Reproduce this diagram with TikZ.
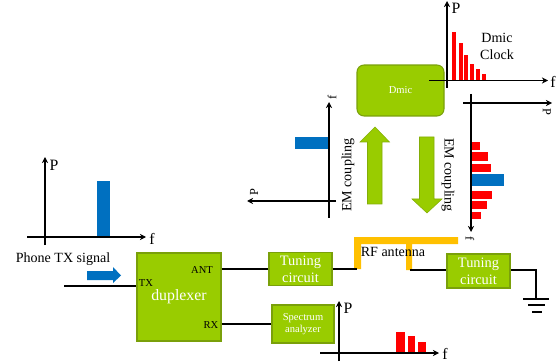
\documentclass[tikz,border=0pt]{standalone}
\usepackage{fontspec}
\setmainfont{Liberation Serif}
\usetikzlibrary{arrows.meta}
\definecolor{boxgreen}{RGB}{153,204,0}
\definecolor{boxedge}{RGB}{122,160,10}
\definecolor{txblue}{RGB}{0,112,192}
\definecolor{antorange}{RGB}{255,192,0}
\tikzset{
  axisline/.style={-{Stealth[length=3.5pt,width=3.5pt]}, line width=0.6pt},
  wire/.style={line width=1.2pt},
  greenbox/.style={draw=boxedge, fill=boxgreen, line width=0.6pt, text=white, align=center, inner sep=0pt},
  bigarrow/.style={draw=boxedge!70!boxgreen, fill=boxgreen, line width=0.3pt},
  label/.style={inner sep=0pt, align=center},
}
\begin{document}
\begin{tikzpicture}[x=0.02cm,y=-0.02cm]
\useasboundingbox (0,0) rectangle (560,364);

% the boxes
\node[greenbox, rounded corners=4pt, minimum width=1.74cm, minimum height=1.02cm, font=\fontsize{6}{7}\selectfont] (dmic) at (400.5,90.5) {Dmic};
\node[greenbox, minimum width=1.68cm, minimum height=1.76cm, font=\fontsize{9}{11}\selectfont] (duplexer) at (179,297) {\raisebox{-1pt}{duplexer}};
\node[greenbox, minimum width=1.26cm, minimum height=0.66cm, font=\fontsize{8.2}{9.5}\selectfont] (tuning1) at (300.5,269) {Tuning\\circuit};
\node[greenbox, minimum width=1.26cm, minimum height=0.68cm, font=\fontsize{8.2}{9.5}\selectfont] (tuning2) at (478.5,271) {Tuning\\circuit};
\node[greenbox, minimum width=1.24cm, minimum height=0.76cm, font=\fontsize{6}{7.2}\selectfont] (spectrum) at (303,324) {Spectrum\\analyzer};

% the antenna
\fill[antorange] (354,269) -- (354,237) -- (458,237) -- (458,244) -- (412,244) -- (412,270) -- (406,270) -- (406,244) -- (361,244) -- (361,269) -- cycle;
\coordinate (antleft) at (357,269);
\coordinate (antright) at (410,270);
\coordinate (txin) at (64,286);
\coordinate (gndcorner) at (536,270);
\coordinate (gndtop) at (536,299);

% the wires
\draw[wire] (txin) -- (duplexer.west |- txin);
\draw[wire] (duplexer.east |- tuning1.west) -- (tuning1.west);
\draw[wire] (duplexer.east |- spectrum.west) -- (spectrum.west);
\draw[wire] (tuning1.east) -- (antleft);
\draw[wire] (antright) -- (antright -| tuning2.west);
\draw[wire] (tuning2.east |- gndcorner) -- (gndcorner) -- (gndtop);

% ground
\foreach \xa/\xb/\ya in {523/549/299,528/545/305,532/542/312}
  \draw[wire] (\xa,\ya) -- (\xb,\ya);

% the plots, first the bars
\foreach \xa/\ytop in {452/32,459/43,464/55,470/64,476/69,482/74}
  \fill[red] (\xa,\ytop) rectangle ++(3.5,81-\ytop);
\foreach \ya/\yb/\xb in {142/150/480,152/161/488,164/172/491,191/199/492,201/209/487,212/219/481}
  \fill[red] (471,\ya) rectangle (\xb,\yb);
\foreach \xa/\xb/\ytop in {396/405/332,408/415/336,418/426/342}
  \fill[red] (\xa,\ytop) rectangle (\xb,353);
\fill[txblue] (471,174) rectangle (504,186);
\fill[txblue] (295,137) rectangle (329,149);
\fill[txblue] (97,181) rectangle (110,237);

% and the axes
\draw[axisline] (447,88) -- (447,1);
\draw[axisline] (429,80.5) -- (548,80.5);
\draw[axisline] (471,94) -- (471,232);
\draw[axisline] (463,103) -- (552,103);
\draw[axisline] (329,218) -- (329,102);
\draw[axisline] (336,201) -- (247,201);
\draw[axisline] (45,245) -- (45,157);
\draw[axisline] (27,237) -- (146,237);
\draw[axisline] (339,361) -- (339,301);
\draw[axisline] (320,353) -- (439,353);

% the big arrows
\draw[bigarrow] (375,127) -- (389.5,142) -- (382,142) -- (382,204) -- (367.5,204) -- (367.5,142) -- (360,142) -- cycle;
\draw[bigarrow] (427,213) -- (412,199) -- (419.5,199) -- (419.5,137) -- (434,137) -- (434,199) -- (442,199) -- cycle;
\fill[txblue] (87,271) -- (113,271) -- (113,267) -- (121,275.5) -- (113,283) -- (113,280) -- (87,280) -- cycle;

% we add the labels
\begin{scope}[font=\fontsize{8}{9.6}\selectfont]
\node[label] (clocklabel) at (497,46) {Dmic\\Clock};
\node[label, rotate=90] (coupling1) at (348,175) {EM coupling};
\node[label, rotate=-90] (coupling2) at (448,175) {EM coupling};
\node[label] (txlabel) at (63,259) {Phone TX signal};
\node[label] (antlabel) at (393,252) {RF antenna};
\end{scope}
\begin{scope}[font=\fontsize{9}{10}\selectfont]
\node[label] (plotP1) at (456,8) {P};
\node[label] (plotF1) at (553,82) {f};
\node[label] (plotP4) at (54,165) {P};
\node[label] (plotF4) at (152,239) {f};
\node[label] (plotP5) at (348,308) {P};
\node[label] (plotF5) at (445,354) {f};
\end{scope}
\begin{scope}[font=\fontsize{7}{8}\selectfont]
\node[label, rotate=-90] (plotP2) at (547,112) {P};
\node[label, rotate=-90] (plotF2) at (470,239) {f};
\node[label, rotate=90] (plotF3) at (332,97) {f};
\node[label, rotate=90] (plotP3) at (254,192) {P};
\end{scope}
\begin{scope}[font=\fontsize{6}{7}\selectfont]
\node[label] (porttx) at (146,283) {TX};
\node[label] (portant) at (202,270) {ANT};
\node[label] (portrx) at (211,325) {RX};
\end{scope}

\end{tikzpicture}
\end{document}
